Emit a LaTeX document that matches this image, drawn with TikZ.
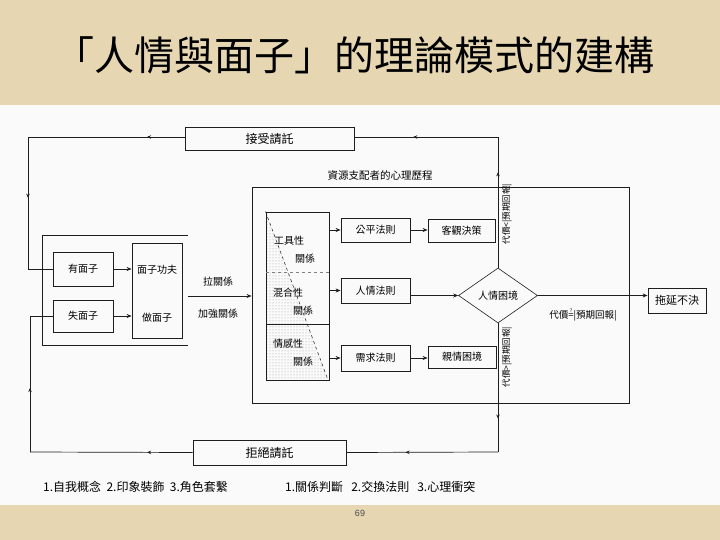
\documentclass[tikz,border=0pt]{standalone}
\usepackage{fontspec}
\newfontfamily\cjk{Noto Sans CJK TC}
\newfontfamily\pnum{Liberation Sans}
\usetikzlibrary{arrows.meta,shapes.geometric,patterns,decorations.markings}
\definecolor{parch}{RGB}{230,215,178}
\definecolor{panel}{RGB}{250,250,250}
\definecolor{ink}{RGB}{30,30,30}
\tikzset{
  box/.style={draw=ink, line width=0.8pt, inner sep=0pt, font=\cjk\fontsize{10}{12}\selectfont},
  lbl/.style={inner sep=0pt, font=\cjk\fontsize{10}{12}\selectfont},
  conn/.style={draw=ink, line width=0.7pt},
  arr/.style={conn, -{Stealth[length=5pt,width=4pt]}},
  midarr/.style={conn, postaction={decorate}, decoration={markings, mark=at position #1 with {\arrow{Stealth[length=4pt,width=3.5pt]}}}}
}
\newcommand{\qeq}{\ooalign{=\cr\hidewidth\raisebox{1.1ex}{\fontsize{5}{5}\selectfont ?}\hidewidth\cr}}
\begin{document}
\begin{tikzpicture}[x=1pt,y=-1pt]
\useasboundingbox (0,0) rectangle (720,540);
\fill[parch] (0,0) rectangle (720,540);
\fill[panel] (0,105) rectangle (720,505);

% title
\node[inner sep=0pt, font=\cjk\fontsize{40}{42}\selectfont] (title) at (354,55) {「人情與面子」的理論模式的建構};

% request boxes
\node[box, minimum width=169pt, minimum height=23pt, font=\cjk\fontsize{12}{14}\selectfont] (accept) at (269.5,138.5) {接受請託};
\node[box, minimum width=153pt, minimum height=25pt, font=\cjk\fontsize{12}{14}\selectfont] (reject) at (269.5,452.5) {拒絕請託};

% left face part
\draw[conn] (188,235) -- (42,235) -- (42,345) -- (188,345);
\node[box, minimum width=60pt, minimum height=34pt] (youmz) at (83,269) {有面子};
\node[box, minimum width=60pt, minimum height=32pt] (shimz) at (83,316) {失面子};
\node[box, minimum width=50pt, minimum height=95pt] (mzbox) at (157,290.5) {};
\node[lbl] (gongfu) at (157,270) {面子功夫};
\node[lbl] (zuomz) at (157,318) {做面子};
\node[lbl] (lagx) at (218,282) {拉關係};
\node[lbl] (jqgx) at (218,314) {加強關係};
\coordinate (outR) at (188,296);

\draw[arr] (youmz.east) -- (mzbox.west |- youmz.east);
\draw[arr] (shimz.east) -- (mzbox.west |- shimz.east);

% big process box
\node[lbl, font=\cjk\fontsize{10.5}{12}\selectfont] (proc) at (380,175) {資源支配者的心理歷程};
\node[draw=ink, line width=0.8pt, minimum width=377pt, minimum height=216pt, inner sep=0pt] (big) at (440.5,295) {};
\draw[arr] (outR) -- (big.west |- outR);

% inner relation box
\fill[pattern=dots, pattern color=gray!80] (266,212) -- (328,380) -- (266,380) -- cycle;
\node[draw=ink, line width=0.9pt, minimum width=63pt, minimum height=168pt, inner sep=0pt] (rel) at (297.5,296) {};
\draw[ink, line width=0.5pt, dashed] (rel.north west) -- (328,380);
\draw[gray, line width=0.4pt, dashed] (266,272) -- (329,272);
\draw[ink, line width=0.7pt] (266,324) -- (329,324);
\node[lbl] (gj1) at (289,241) {工具性};
\node[lbl] (gj2) at (305,259) {關係};
\node[lbl] (hh1) at (288,293) {混合性};
\node[lbl] (hh2) at (303,311) {關係};
\node[lbl] (qg1) at (288,344) {情感性};
\node[lbl] (qg2) at (303,362) {關係};

% rules
\node[box, minimum width=69pt, minimum height=24pt] (fair) at (375.5,230) {公平法則};
\node[box, minimum width=67pt, minimum height=23pt] (obj) at (461.5,230.5) {客觀決策};
\node[box, minimum width=69pt, minimum height=25pt] (rqrule) at (375.5,290.5) {人情法則};
\node[box, minimum width=69pt, minimum height=26pt] (need) at (375.5,358) {需求法則};
\node[box, minimum width=68pt, minimum height=22pt] (kin) at (462,357) {親情困境};
\node[draw=ink, line width=0.6pt, diamond, minimum width=79pt, minimum height=55pt, inner sep=0pt, font=\cjk\fontsize{10}{12}\selectfont] (dia) at (498,295.5) {人情困境};
\node[box, minimum width=58pt, minimum height=25pt, font=\cjk\fontsize{11}{13}\selectfont] (delay) at (677,300.5) {拖延不決};

\draw[arr] (rel.east |- fair.west) -- (fair.west);
\draw[arr] (rel.east |- rqrule.west) -- (rqrule.west);
\draw[arr] (rel.east |- need.west) -- (need.west);
\draw[arr] (fair.east) -- (obj.west |- fair.east);
\draw[arr] (need.east) -- (kin.west |- need.east);
\draw[arr] (rqrule.east |- dia.west) -- (dia.west);
\draw[arr] (dia.east) -- (delay.west |- dia.east);

% labels of decisions
\node[lbl, rotate=90, font=\cjk\fontsize{8.5}{10}\selectfont] (lt) at (507,214) {代價<|預期回報|};
\node[lbl, rotate=90, font=\cjk\fontsize{8.5}{10}\selectfont] (lb) at (507,357) {代價>|預期回報|};
\node[lbl, font=\cjk\fontsize{9.5}{11}\selectfont] (lm) at (583,316) {代價\qeq|預期回報|};

% feedback loops
\coordinate (TR) at (498,137);
\coordinate (TL) at (28,137);
\coordinate (TLd) at (28,269);
\coordinate (BR) at (498,452);
\coordinate (BL) at (30,452);
\coordinate (BLu) at (30,316);
\draw[midarr=0.73] (dia.north) -- (TR);
\draw[midarr=0.59] (TR) -- (accept.east |- TR);
\draw[midarr=0.24] (accept.west |- TL) -- (TL);
\draw[midarr=0.46] (TL) -- (TLd);
\draw[conn] (TLd) -- (youmz.west);
\draw[midarr=0.74] (dia.south) -- (BR);
\draw[midarr=0.61] (BR) -- (reject.east);
\draw[midarr=0.28] (reject.west) -- (BL);
\draw[midarr=0.47] (BL) -- (BLu);
\draw[conn] (BLu) -- (shimz.west);

% bottom texts
\node[lbl, anchor=west, font=\cjk\fontsize{12}{14}\selectfont] (bt1) at (43,487) {1.自我概念\ \ 2.印象裝飾\ \ 3.角色套繫};
\node[lbl, anchor=west, font=\cjk\fontsize{12}{14}\selectfont] (bt2) at (285,487) {1.關係判斷\ \ \ 2.交換法則\ \ \ 3.心理衝突};
\node[inner sep=0pt, font=\pnum\fontsize{9}{10}\selectfont, text=gray!60!black] (pg) at (360,513) {69};
\end{tikzpicture}
\end{document}
